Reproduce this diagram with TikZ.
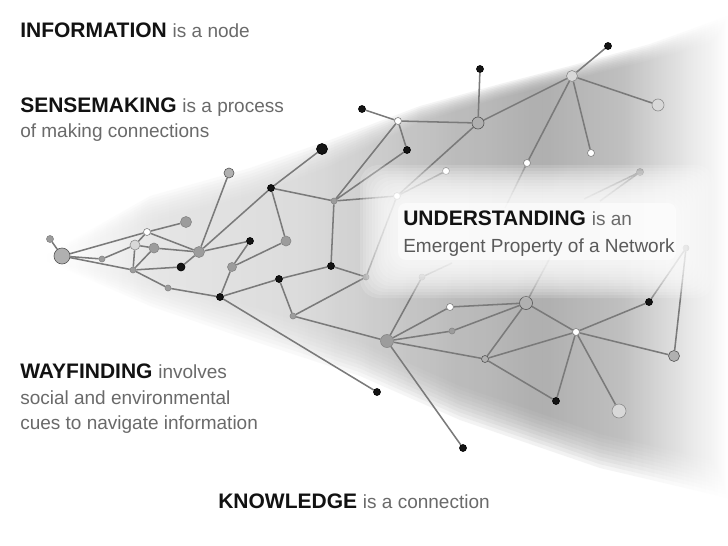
\documentclass[tikz,border=0pt]{standalone}
\usepackage{fontspec}
\setmainfont{Liberation Sans}
\pgfdeclarelayer{bg}
\pgfdeclarelayer{edges}
\pgfdeclarelayer{glow}
\pgfdeclarelayer{top}
\pgfsetlayers{bg,edges,main,glow,top}
\definecolor{edgec}{HTML}{7A7A7A}
\definecolor{nodeg}{HTML}{9C9C9C}
\definecolor{nodegd}{HTML}{858585}
\definecolor{nodel}{HTML}{B0B0B0}
\definecolor{nodeo}{HTML}{555555}
\definecolor{nodep}{HTML}{D8D8D8}
\definecolor{nodepo}{HTML}{8C8C8C}
\definecolor{txtk}{HTML}{121212}
\definecolor{txtg}{HTML}{6A6A6A}
\definecolor{txtm}{HTML}{5A5A5A}
\pgfdeclarehorizontalshading{netshade}{100bp}{color(0bp)=(white); color(25bp)=(white); color(32bp)=(black!12); color(43bp)=(black!17); color(54bp)=(black!33); color(61bp)=(black!40); color(67bp)=(black!32); color(72bp)=(black!11); color(75bp)=(white); color(100bp)=(white)}
\newcommand\hlword[1]{{\fontsize{15.75pt}{18pt}\selectfont\bfseries\color{txtk}#1}}
\newcommand\plainword[1]{{\fontsize{14.25pt}{17pt}\selectfont\color{txtg}#1}}
\newcommand\plainwordm[1]{{\fontsize{14.25pt}{17pt}\selectfont\color{txtm}#1}}
\tikzset{
  nd/.style={circle,inner sep=0pt,minimum size=1.5pt*#1,line width=0.45pt},
  blk/.style={nd=#1,fill=black!92,draw=black},
  blk/.default=3.5,
  gm/.style={nd=#1,fill=nodeg,draw=nodegd},
  gm/.default=3,
  gl/.style={nd=#1,fill=nodel,draw=nodeo},
  gl/.default=5,
  pale/.style={nd=#1,fill=nodep,draw=nodepo},
  pale/.default=5,
  wt/.style={nd=#1,fill=white,draw=black!50},
  wt/.default=3.5,
  lnk/.style={draw=edgec,line width=1.15pt},
  txt/.style={anchor=base west,inner sep=0pt},
  wedge/.style={shading=netshade,opacity=0.13}
}
\begin{document}
\begin{tikzpicture}[x=0.75pt,y=-0.75pt]
\useasboundingbox (0,0) rectangle (728,546);
\begin{pgfonlayer}{bg}
\fill[white] (0,0) rectangle (728,546);
\foreach \t in {0,0.111,0.222,0.333,0.444,0.556,0.667,0.778,0.889,1}
  \path[wedge] ({45+30*\t},256) -- (150,{196+26*\t}) -- (250,{168+28*\t}) -- (330,{140+26*\t})
    -- (420,{106+16*\t}) -- (500,{84+14*\t}) -- (570,{66+14*\t}) -- (650,{44+16*\t}) -- (728,{16+22*\t})
    -- (728,{498-34*\t}) -- (600,{468-34*\t}) -- (460,{420-34*\t}) -- (360,{376-34*\t})
    -- (250,{340-34*\t}) -- (150,{306-30*\t}) -- ({45+30*\t},260) -- cycle;
\end{pgfonlayer}
% nodes
\node[gl=8]   (nA)  at (62,256) {};
\node[gm=3.5] (nA0) at (50,239) {};
\node[gm=3]   (nB)  at (102,259) {};
\node[wt=3.5] (nC)  at (147,232) {};
\node[pale=5] (nD)  at (135,245) {};
\node[gm=5]   (nE)  at (154,248) {};
\node[gm=5.5] (nF)  at (186,222) {};
\node[gm=3]   (nG)  at (133,270) {};
\node[blk=4]  (nH)  at (181,267) {};
\node[gm=5.5] (nI)  at (199,252) {};
\node[gm=3]   (nJ)  at (168,288) {};
\node[blk]    (nK)  at (220,297) {};
\node[gl=5]   (nL)  at (229,173) {};
\node[gm=4.5] (nM)  at (232,267) {};
\node[blk]    (nN)  at (271,188) {};
\node[gm=3]   (nO)  at (334,201) {};
\node[blk]    (nP)  at (250,241) {};
\node[gm=5]   (nQ)  at (286,241) {};
\node[blk]    (nR)  at (331,266) {};
\node[gm=3]   (nS)  at (366,277) {};
\node[blk]    (nT)  at (279,279) {};
\node[gm=3]   (nU)  at (293,316) {};
\node[gm=6.5] (nV)  at (387,341) {};
\node[blk]    (nW)  at (377,392) {};
\node[blk]    (nd)  at (463,448) {};
\node[gm=3]   (nX)  at (422,277) {};
\node[wt=3.5] (nY)  at (450,307) {};
\node[gl=6.5] (nZ)  at (526,303) {};
\node[gm=3]   (na)  at (452,331) {};
\node[gl=3.5] (nb)  at (485,359) {};
\node[blk]    (nc)  at (556,401) {};
\node[wt=3.5] (ne)  at (576,332) {};
\node[blk]    (nf)  at (649,302) {};
\node[gm=3]   (ng)  at (686,248) {};
\node[gl=5.5] (nh)  at (674,356) {};
\node[pale=7] (ni)  at (619,411) {};
\node[wt=3.5] (nj)  at (527,163) {};
\node[wt=3.5] (nk)  at (591,153) {};
\node[pale=5.5] (nl) at (572,76) {};
\node[blk]    (nm)  at (608,46) {};
\node[pale=6] (nn)  at (658,105) {};
\node[gl=6]   (no)  at (478,123) {};
\node[blk]    (np)  at (480,69) {};
\node[wt=3.5] (nq)  at (446,171) {};
\node[gm=3.5] (nr)  at (640,172) {};
\node[blk]    (ns)  at (362,109) {};
\node[wt=3.5] (nt)  at (398,121) {};
\node[blk]    (nu)  at (407,150) {};
\node[blk=5.5] (nv) at (322,149) {};
\node[wt=3.5] (nw)  at (397,196) {};
% free ends of connectors fading under the text
\coordinate (fj) at (505,208);
\coordinate (fX) at (452,263);
\coordinate (fr1) at (584,199);
\coordinate (fr2) at (600,201);
\coordinate (fZ) at (551,256);
\begin{pgfonlayer}{edges}
\foreach \p/\q in {nA/nA0,nA/nC,nC/nF,nA/nB,nB/nD,nA/nG,nC/nD,nC/nI,nD/nE,nD/nG,nE/nI,nG/nE,nG/nH,nG/nJ,nH/nI,nJ/nK,
  nI/nL,nI/nN,nI/nP,nP/nM,nM/nK,nM/nQ,nN/nQ,nN/nv,nN/nO,nO/nt,nO/nu,nO/nR,nO/nw,nt/ns,nt/nu,nt/no,no/np,no/nl,no/nw,
  nw/nq,nw/nS,nR/nS,nR/nT,nT/nK,nT/nU,nS/nU,nU/nV,nK/nW,nV/nX,nV/nY,nV/na,na/nZ,nV/nb,nV/nd,nY/nZ,nZ/nb,nb/nc,nb/ne,
  nZ/ne,ne/nc,ne/ni,ne/nf,ne/nh,nf/ng,ng/nh,nl/nm,nl/nn,nl/nk,nl/nj,nj/fj,nX/fX,nr/fr1,nr/fr2,nZ/fZ}
  \draw[lnk] (\p) -- (\q);
\end{pgfonlayer}
\begin{pgfonlayer}{glow}
\foreach \dd in {36,33,30,27,24,21,18,15,12,9,6,3}
  \fill[white,opacity=0.15,rounded corners=14pt] (396-\dd,201-\dd) rectangle (678+\dd,262+\dd);
\fill[white,opacity=0.6,rounded corners=6pt] (398,203) rectangle (676,260);
\end{pgfonlayer}
\begin{pgfonlayer}{top}
\node[txt] (t1) at (20,37) {\hlword{INFORMATION}\hspace{4.4pt}\plainword{is a node}};
\node[txt] (t2) at (20,112) {\hlword{SENSEMAKING}\hspace{4.4pt}\plainword{is a process}};
\node[txt] (t3) at (20,137) {\plainword{of making connections}};
\node[txt] (t4) at (403,225) {\hlword{UNDERSTANDING}\hspace{4.4pt}\plainword{is an}};
\node[txt] (t5) at (403,252) {\plainwordm{Emergent Property of a Network}};
\node[txt] (t6) at (20,378) {\hlword{WAYFINDING}\hspace{4.4pt}\plainword{involves}};
\node[txt] (t7) at (20,404) {\plainword{social and environmental}};
\node[txt] (t8) at (20,429) {\plainword{cues to navigate information}};
\node[txt] (t9) at (218,508) {\hlword{KNOWLEDGE}\hspace{4.4pt}\plainword{is a connection}};
\end{pgfonlayer}
\end{tikzpicture}
\end{document}
